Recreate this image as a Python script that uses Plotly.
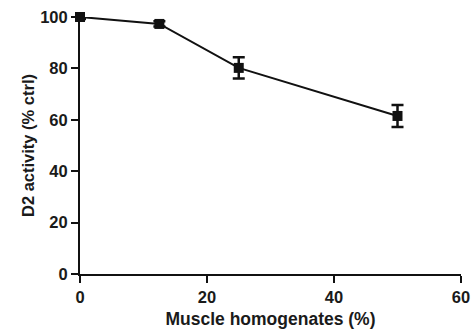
import plotly.graph_objects as go

x_vals = [0, 12.5, 25, 50]
y_vals = [100, 97.3, 80.2, 61.5]
y_err = [0.8, 1.0, 4.1, 4.3]
x_ticks = [0, 20, 40, 60]
y_ticks = [0, 20, 40, 60, 80, 100]

fig = go.Figure()
fig.add_trace(go.Scatter(
    x=x_vals, y=y_vals,
    mode="lines+markers",
    line=dict(color="#111111", width=2),
    marker=dict(symbol="square", size=10, color="#111111"),
    error_y=dict(type="data", array=y_err, visible=True, color="#111111", thickness=2.5, width=6),
    cliponaxis=False,
    showlegend=False,
))

font = dict(family="Liberation Sans, Arial, sans-serif", color="#1a1a1a")
fig.update_layout(
    width=476, height=333,
    margin=dict(l=80, r=15, t=17, b=59, pad=0),
    plot_bgcolor="white", paper_bgcolor="white",
    font=font,
)
fig.update_xaxes(
    range=[0, 60], tickvals=x_ticks, ticktext=[f"<b>{v}</b>" for v in x_ticks],
    showgrid=False, zeroline=False, showline=True, linecolor="#111111", linewidth=2,
    ticks="outside", ticklen=7, tickwidth=2, tickcolor="#111111",
    tickfont=dict(size=16.5), automargin=False,
    title=dict(text="<b>Muscle homogenates (%)</b>", font=dict(size=17.5), standoff=8),
)
fig.update_yaxes(
    range=[0, 100], tickvals=y_ticks, ticktext=[f"<b>{v}</b>" for v in y_ticks],
    showgrid=False, zeroline=False, showline=True, linecolor="#111111", linewidth=2,
    ticks="outside", ticklen=7, tickwidth=2, tickcolor="#111111",
    tickfont=dict(size=16.5), automargin=False,
    title=dict(text="<b>D2 activity (% ctrl)</b>", font=dict(size=16.5), standoff=1),
)
fig.write_html(
    "out.html",
    config={"displayModeBar": False, "responsive": False},
    post_script="document.body.style.margin='0';document.body.style.overflow='hidden';",
)
